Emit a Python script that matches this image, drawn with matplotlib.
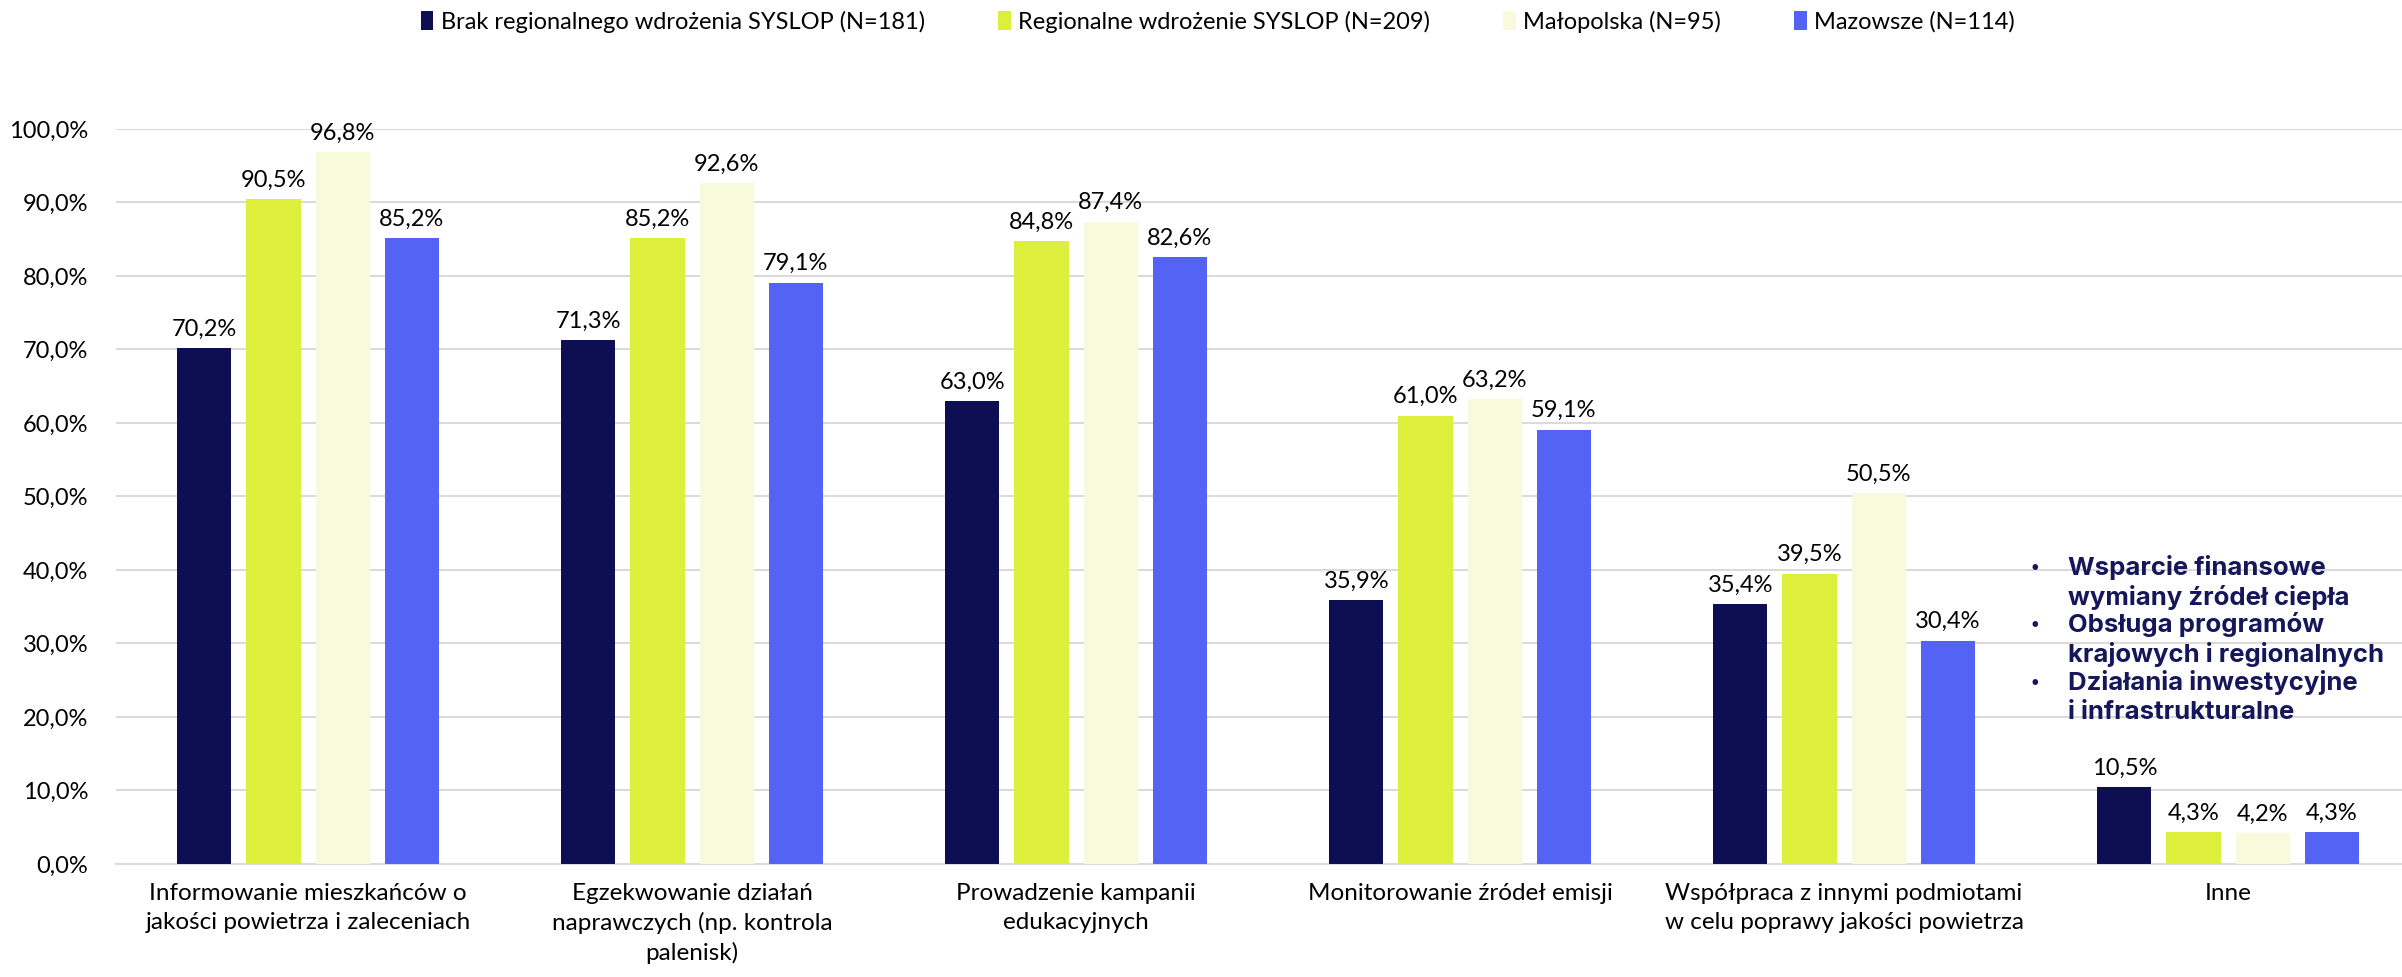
import matplotlib
matplotlib.use('Agg')
import matplotlib.pyplot as plt
import numpy as np

# Data
categories = [
    'Informowanie mieszkańców o\njakości powietrza i zaleceniach',
    'Egzekwowanie działań\nnaprawczych (np. kontrola\npalenisk)',
    'Prowadzenie kampanii\nedukacyjnych',
    'Monitorowanie źródeł emisji',
    'Współpraca z innymi podmiotami\nw celu poprawy jakości powietrza',
    'Inne',
]
series_names = [
    'Brak regionalnego wdrożenia SYSLOP (N=181)',
    'Regionalne wdrożenie SYSLOP (N=209)',
    'Małopolska (N=95)',
    'Mazowsze (N=114)',
]
brak = [70.2, 71.3, 63.0, 35.9, 35.4, 10.5]
regionalne = [90.5, 85.2, 84.8, 61.0, 39.5, 4.3]
malopolska = [96.8, 92.6, 87.4, 63.2, 50.5, 4.2]
mazowsze = [85.2, 79.1, 82.6, 59.1, 30.4, 4.3]
colors = ['#0D0F52', '#DDEF3C', '#F7FADB', '#5563F5']

inne_note = [
    ['Wsparcie finansowe', 'wymiany źródeł ciepła'],
    ['Obsługa programów', 'krajowych i regionalnych'],
    ['Działania inwestycyjne', 'i infrastrukturalne'],
]

plt.rcParams['font.family'] = ['Lato', 'DejaVu Sans']

fig = plt.figure(figsize=(24.02, 9.77), dpi=100)
# plot area runs a little past the right edge, as in the original
ax = fig.add_axes([0.0483, 0.1157, 0.9592, 0.7523])

x = np.arange(len(categories))
bar_w = 0.141
step = 0.180
all_series = [brak, regionalne, malopolska, mazowsze]
for i, (vals, name, col) in enumerate(zip(all_series, series_names, colors)):
    pos = x + (i - 1.5) * step
    bars = ax.bar(pos, vals, width=bar_w, color=col, label=name, zorder=3)
    for b, v in zip(bars, vals):
        ax.annotate(f'{v:.1f}%'.replace('.', ','),
                    (b.get_x() + b.get_width() / 2, v),
                    xytext=(0, 6), textcoords='offset points',
                    ha='center', va='bottom', fontsize=17, color='#000000',
                    annotation_clip=False)

ax.set_xlim(-0.5, len(categories) - 0.5)
ax.set_ylim(0, 100)
ax.set_yticks(np.arange(0, 101, 10))
ax.set_yticklabels([f'{t:.1f}%'.replace('.', ',') for t in np.arange(0, 101, 10)])
ax.set_xticks(x)
ax.set_xticklabels(categories, fontsize=17.5, linespacing=1.42)
ax.tick_params(axis='y', length=0, labelsize=17)
ax.tick_params(axis='x', length=0, pad=14)
ax.tick_params(axis='y', pad=20)
ax.grid(axis='y', color='#D9D9D9', linewidth=1.4, zorder=0)
for s in ['top', 'right', 'left']:
    ax.spines[s].set_visible(False)
ax.spines['bottom'].set_color('#D9D9D9')
ax.spines['bottom'].set_linewidth(1.4)

# note for "Inne"
line_h = 4.1
block_y = [40.4, 32.6, 24.7]
for lines, yv in zip(inne_note, block_y):
    ax.text(4.497, yv, '•', fontsize=13, color='#15175A', ha='center',
            va='center', family=['Inter', 'DejaVu Sans'], fontweight='bold')
    for k, ln in enumerate(lines):
        ax.text(4.583, yv - k * line_h, ln, fontsize=18.5, color='#15175A',
                ha='left', va='center', family=['Inter', 'DejaVu Sans'],
                fontweight='bold')

fig.legend(loc='center', bbox_to_anchor=(0.507, 0.978), ncol=4,
           frameon=False, fontsize=17, handlelength=0.55, handleheight=0.9,
           handletextpad=0.3, columnspacing=3.1, borderpad=0)

fig.savefig('out.png', dpi=100)
plt.close(fig)
